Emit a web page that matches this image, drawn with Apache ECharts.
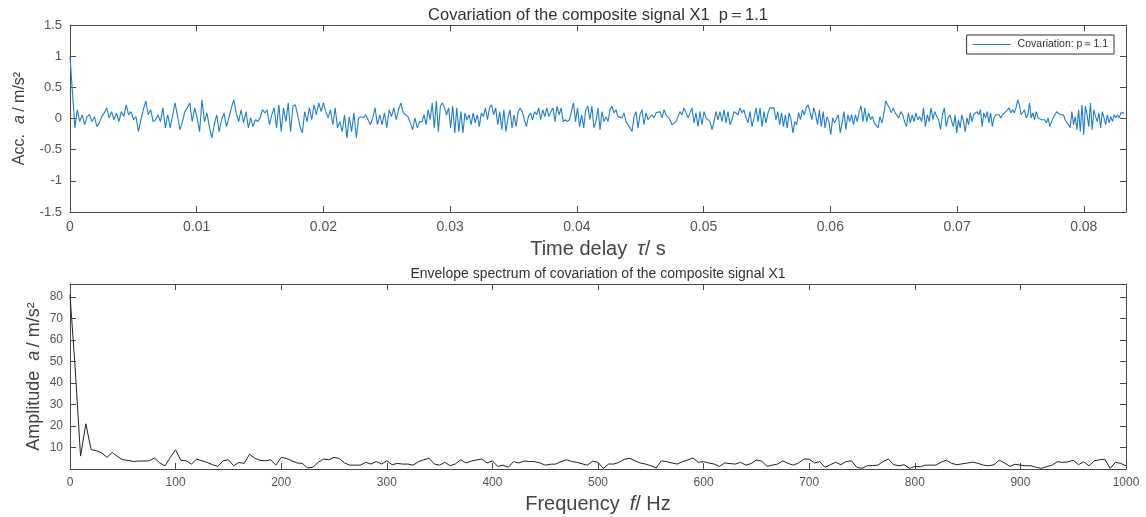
<!DOCTYPE html>
<html>
<head>
<meta charset="utf-8">
<script src="https://cdn.jsdelivr.net/npm/echarts@6/dist/echarts.min.js"></script>
<style>
  html, body { margin: 0; background: #fff; }
  #main { width: 1146px; height: 517px; }
</style>
</head>
<body>
<div id="main"></div>
<script>
// covariation, one array per sixth of the time axis
const seg1 = [1.0, 0.42, -0.15, 0.14, -0.05, 0.06, -0.10, 0.03, 0.06, -0.05, 0.03, -0.13, -0.07, 0.03, 0.09, 0.17, 0.01, 0.11, -0.02, 0.09,
  -0.05, 0.11, 0.03, 0.22, 0.06, 0.11, -0.02, 0.03, -0.21, -0.02, 0.14, 0.28, 0.06, 0.14, -0.05, -0.02, 0.06, -0.05, 0.17, -0.15,
  0.06, -0.15, 0.06, 0.25, 0.03, -0.18, -0.05, 0.11, 0.17, 0.25, -0.05, 0.17, 0.01, -0.21, 0.30, -0.05, 0.09, -0.13, -0.31, -0.10,
  0.06, -0.21, -0.02, 0.09, -0.13, 0.01, 0.17, 0.30, 0.09, -0.05, 0.14, -0.07]
const seg2 = [0.11, -0.15, 0.01, -0.13, -0.02, -0.05, 0.01, 0.14, 0.09, 0.14, -0.10, 0.06, 0.17, -0.15, 0.22, -0.21, 0.17, -0.05, 0.25, -0.21,
  0.20, 0.22, 0.06, -0.13, -0.23, 0.11, -0.05, 0.17, -0.02, 0.22, 0.06, 0.25, 0.11, 0.25, 0.11, 0.01, 0.14, -0.10, 0.17, -0.15,
  -0.05, -0.21, 0.06, -0.31, 0.03, -0.21, 0.09, -0.31, 0.01, 0.03, 0.01, 0.06, -0.02, -0.10, 0.01, 0.17, -0.10, 0.06, -0.10, 0.09,
  -0.15, 0.14, 0.03, 0.17, -0.02, 0.14, 0.25, 0.09, 0.06, 0.03, -0.07, -0.18, 0.01, -0.15, -0.05]
const seg3 = [-0.05, 0.06, -0.10, 0.14, -0.02, 0.25, -0.15, 0.28, -0.21, 0.20, 0.25, 0.17, 0.06, 0.17, -0.15, 0.20, -0.23, 0.17, -0.21, 0.11,
  -0.23, 0.09, -0.02, 0.06, -0.10, 0.09, -0.07, 0.06, -0.13, 0.09, 0.03, 0.17, -0.02, 0.17, 0.22, 0.06, 0.17, -0.10, 0.11, -0.18,
  0.14, -0.21, 0.01, 0.14, -0.15, 0.06, -0.13, 0.11, 0.17, 0.11, -0.02, -0.13, 0.03, 0.09, -0.02, 0.11, 0.06, 0.17, -0.02, 0.14,
  0.03, 0.17, 0.03, 0.11, 0.17, -0.05, 0.20, 0.06, 0.17, -0.05, -0.02, -0.05, -0.02, 0.11, 0.25, -0.05, 0.17, -0.13, 0.06, -0.15,
  0.14, 0.20, -0.02, 0.20, -0.15, -0.05]
const seg4 = [0.17, -0.18, 0.11, -0.05, 0.03, -0.05, 0.14, 0.20, 0.09, 0.14, 0.03, 0.06, 0.01, 0.09, -0.05, -0.10, -0.15, -0.21, 0.03, 0.11,
  -0.15, 0.06, 0.14, -0.10, 0.09, -0.02, -0.05, 0.06, 0.01, 0.09, 0.06, 0.11, 0.01, 0.14, 0.06, 0.03, -0.02, -0.10, -0.13, -0.05,
  0.03, 0.11, 0.06, 0.17, 0.09, 0.01, 0.09, 0.17, -0.07, 0.09, -0.13, 0.11, -0.10, 0.11, 0.01, 0.03, -0.05, -0.18, -0.05, 0.11,
  -0.02, 0.11, -0.05, 0.14, -0.07, 0.11, -0.10, -0.02, 0.11, 0.14, 0.06, 0.17, 0.09, 0.14, 0.01, -0.07, 0.11, -0.13, 0.01, 0.17,
  -0.05, 0.17, -0.13, 0.11, -0.07, 0.09, 0.17, 0.20]
const seg5 = [0.17, -0.02, 0.11, -0.10, 0.09, -0.13, 0.06, -0.15, 0.09, -0.02, -0.23, -0.05, -0.10, 0.09, -0.02, 0.14, 0.06, 0.17, 0.22, 0.11,
  -0.02, 0.17, 0.06, -0.10, 0.14, -0.13, 0.11, -0.15, 0.03, -0.05, -0.26, 0.01, -0.07, -0.10, 0.06, -0.23, -0.07, 0.11, -0.18, 0.06,
  -0.05, 0.06, -0.10, 0.06, -0.05, 0.11, 0.20, -0.05, 0.17, -0.05, 0.09, -0.02, 0.03, -0.07, -0.05, -0.15, 0.03, -0.07, 0.06, 0.28,
  0.22, 0.17, 0.09, 0.17, 0.09, 0.06, 0.01, 0.11, 0.06, -0.05, -0.13, 0.09, -0.07, 0.06, -0.05, 0.09, -0.02, 0.03, -0.05, 0.17,
  -0.13, 0.06, -0.05, 0.17, -0.02, 0.11, 0.03, -0.02, -0.18, 0.06, 0.17, -0.13, 0.01]
const seg6 = [0.06, -0.05, -0.13, 0.06, -0.23, -0.02, -0.15, 0.06, -0.05, -0.21, 0.01, -0.10, 0.09, -0.05, 0.06, 0.03, 0.11, 0.06, 0.14, -0.13,
  0.09, 0.01, 0.11, -0.07, 0.09, -0.13, 0.01, 0.06, 0.03, 0.06, 0.01, 0.06, 0.09, 0.11, 0.14, 0.17, 0.09, 0.14, 0.09, 0.17,
  0.30, 0.22, 0.06, 0.03, 0.14, 0.01, 0.06, 0.25, 0.01, 0.09, -0.02, 0.11, 0.01, 0.03, -0.02, -0.05, -0.02, -0.07, 0.01, -0.13,
  -0.05, 0.01, 0.06, 0.11, 0.09, 0.06, 0.09, 0.06, -0.02, 0.01, -0.10, -0.15, 0.11, -0.10, 0.03, -0.18, 0.14, -0.21, 0.22, -0.26,
  0.20, 0.06, -0.13, 0.25, -0.18, 0.14, 0.03, -0.05, 0.09, -0.15, 0.11, 0.01, -0.10, 0.06, -0.07, 0.03, -0.05, 0.06, 0.01, 0.06,
  0.01, 0.09, 0.06, 0.09]
const covSegments = [seg1, seg2, seg3, seg4, seg5, seg6]
const tauMax = 1 / 12

// envelope spectrum, one value every 5 Hz from 0 to 1000 Hz
const freqStep = 5
const envelope = [
  81, 46, 6, 21, 9, 8.5, 7.5, 5.4, 7.7, 5.8, 4.3, 4.0, 3.5, 3.7, 3.7, 3.8, 5.1, 2.8, 1.5, 5.4,
  8.9, 4.0, 3.8, 2.3, 4.6, 3.8, 3.0, 2.0, 1.2, 3.8, 4.3, 1.5, 3.1, 2.6, 6.9, 5.0, 4.0, 3.8, 4.3, 1.8,
  5.4, 4.9, 3.8, 2.8, 2.6, 0.5, 0.8, 3.1, 4.6, 4.3, 5.4, 4.9, 2.8, 1.8, 1.8, 1.8, 3.1, 2.3, 3.5, 2.3,
  3.8, 2.0, 2.6, 2.3, 2.3, 1.8, 3.4, 4.3, 5.0, 2.3, 1.8, 3.1, 1.5, 2.4, 4.3, 2.8, 3.7, 4.2, 4.6, 2.8,
  3.8, 1.2, 1.8, 0.8, 3.4, 2.8, 3.7, 3.5, 3.4, 2.8, 1.8, 2.2, 2.3, 3.4, 4.3, 3.5, 3.1, 2.4, 1.8, 3.7,
  3.1, 0.3, 2.3, 2.3, 3.1, 4.5, 5.0, 3.8, 2.8, 2.3, 1.5, 0.5, 3.8, 3.4, 2.8, 2.3, 3.4, 4.2, 5.1, 3.1,
  3.4, 2.8, 2.3, 1.2, 2.8, 2.5, 2.3, 3.1, 1.8, 2.5, 4.2, 3.7, 1.2, 1.8, 2.3, 3.8, 2.6, 1.8, 2.8, 4.6,
  4.6, 2.8, 3.4, 0.8, 2.0, 3.1, 2.0, 3.5, 3.8, 0.8, 0.3, 1.5, 1.6, 1.8, 3.5, 4.6, 2.0, 1.5, 2.0, 0.3,
  1.2, 1.0, 1.8, 1.8, 1.8, 3.2, 4.1, 2.6, 2.0, 2.4, 2.8, 3.2, 2.6, 1.8, 1.5, 2.0, 4.1, 2.8, 1.2, 2.2,
  1.8, 1.5, 1.5, 0.8, 0.3, 1.1, 1.8, 3.4, 3.1, 3.3, 4.1, 2.0, 3.4, 1.5, 3.8, 4.3, 4.5, 0.3, 3.1, 2.6,
  1.5
]

const topTitle = 'Covariation of the composite signal X1  p＝1.1'
const bottomTitle = 'Envelope spectrum of covariation of the composite signal X1'
const legendName = 'Covariation: p＝1.1'

const covData = []
const span = tauMax / covSegments.length
covSegments.forEach((seg, k) => {
  seg.forEach((v, j) => {
    covData.push([k * span + j * span / seg.length, v])
  })
})
const envData = envelope.map((v, i) => [i * freqStep, v])

const font = '"Liberation Sans", Arial, Helvetica, sans-serif'
const lineGray = '#4a4a4a'
const labelGray = '#555'

// matlab style box: every side gets a line and inward ticks
function boxAxis(gridIndex, position, extra) {
  return Object.assign({
    gridIndex: gridIndex,
    type: 'value',
    position: position,
    axisLine: { show: true, onZero: false, lineStyle: { color: lineGray, width: 1 } },
    axisTick: { show: true, inside: true, length: 6, lineStyle: { color: lineGray } },
    axisLabel: { show: false },
    splitLine: { show: false }
  }, extra)
}

function axisName(size) {
  return {
    rich: {
      t: { fontSize: size, color: '#444', fontFamily: font },
      i: { fontSize: size, color: '#444', fontFamily: font, fontStyle: 'italic' }
    }
  }
}

const chart = echarts.init(document.getElementById('main'))
chart.setOption({
  animation: false,
  textStyle: { fontFamily: font },
  graphic: [
    { type: 'text', x: 598, y: 7, style: { text: topTitle, font: '16.5px ' + font, fill: '#333', textAlign: 'center', align: 'center' } },
    { type: 'text', x: 598, y: 267, style: { text: bottomTitle, font: '14px ' + font, fill: '#333', textAlign: 'center', align: 'center' } }
  ],
  legend: {
    right: 32,
    top: 35,
    padding: [4, 6, 4, 6],
    borderColor: '#333',
    borderWidth: 1,
    itemWidth: 38,
    itemHeight: 1.2,
    itemGap: 4,
    textStyle: { fontSize: 10.5, color: '#333', fontFamily: font, padding: [0, 0, 0, 2] },
    data: [{ name: legendName, icon: 'rect' }]
  },
  grid: [
    { left: 70, top: 25, width: 1056, height: 187 },
    { left: 70, top: 284, width: 1056, height: 185 }
  ],
  xAxis: [
    boxAxis(0, 'bottom', {
      min: 0, max: tauMax, interval: 0.01,
      axisLabel: {
        show: true, color: labelGray, fontSize: 14, margin: 8,
        formatter: v => (v > 0.081 ? '' : String(+v.toFixed(2)))
      },
      name: '{t|Time delay}   {i|τ}{t|/ s}',
      nameLocation: 'middle',
      nameGap: 27,
      nameTextStyle: axisName(20)
    }),
    boxAxis(0, 'top', { min: 0, max: tauMax, interval: 0.01 }),
    boxAxis(1, 'bottom', {
      min: 0, max: 1000, interval: 100,
      axisLabel: { show: true, color: labelGray, fontSize: 12, margin: 8, formatter: v => String(v) },
      name: '{t|Frequency}   {i|f}{t|/ Hz}',
      nameLocation: 'middle',
      nameGap: 25,
      nameTextStyle: axisName(20)
    }),
    boxAxis(1, 'top', { min: 0, max: 1000, interval: 100 })
  ],
  yAxis: [
    boxAxis(0, 'left', {
      min: -1.5, max: 1.5, interval: 0.5,
      axisLabel: { show: true, color: labelGray, fontSize: 13, margin: 8 },
      name: '{t|Acc.}   {i|a} {t|/ m/s²}',
      nameLocation: 'middle',
      nameMoveOverlap: false,
      nameGap: 42,
      nameTextStyle: axisName(16)
    }),
    boxAxis(0, 'right', { min: -1.5, max: 1.5, interval: 0.5 }),
    boxAxis(1, 'left', {
      min: 0, max: 86, interval: 10,
      axisLabel: {
        show: true, color: labelGray, fontSize: 12, margin: 7,
        formatter: v => (v === 0 || v > 80 ? '' : String(v))
      },
      name: '{t|Amplitude}   {i|a} {t|/ m/s²}',
      nameLocation: 'middle',
      nameMoveOverlap: false,
      nameGap: 27,
      nameTextStyle: axisName(18)
    }),
    boxAxis(1, 'right', { min: 0, max: 86, interval: 10 })
  ],
  series: [
    {
      name: legendName,
      type: 'line',
      xAxisIndex: 0,
      yAxisIndex: 0,
      data: covData,
      symbol: 'none',
      lineStyle: { color: '#1f7fcf', width: 1.1 },
      itemStyle: { color: '#1f7fcf' }
    },
    {
      name: 'envelope',
      type: 'line',
      xAxisIndex: 2,
      yAxisIndex: 2,
      data: envData,
      symbol: 'none',
      lineStyle: { color: '#222', width: 1 },
      itemStyle: { color: '#222' }
    }
  ]
})
</script>
</body>
</html>
